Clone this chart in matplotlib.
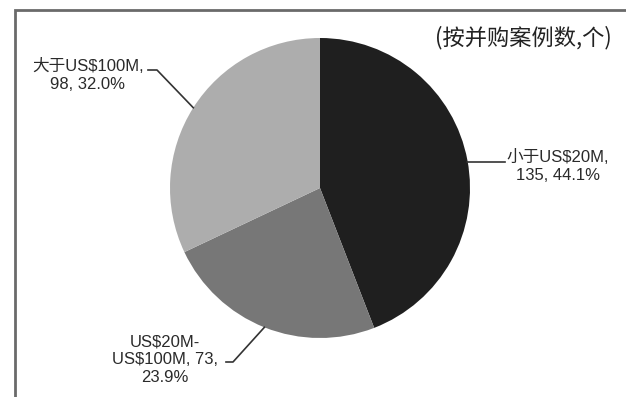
import numpy as np
import matplotlib
matplotlib.use("Agg")
import matplotlib.pyplot as plt

plt.rcParams['font.family'] = ['Liberation Sans', 'Noto Sans CJK SC', 'DejaVu Sans']

categories = ["小于US$20M", "US$20M-US$100M", "大于US$100M"]
counts = [135, 73, 98]
shares = [44.1, 23.9, 32.0]
label_texts = ["小于US$20M,\n135, 44.1%", "US$20M-\nUS$100M, 73,\n23.9%", "大于US$100M,\n98, 32.0%"]
colors = ["#1f1f1f", "#777777", "#adadad"]
note = "(按并购案例数,个)"

W, H = 626, 397
fig = plt.figure(figsize=(W / 100, H / 100), dpi=100)
ax = fig.add_axes([0, 0, 1, 1])
ax.set_xlim(0, W)
ax.set_ylim(0, H)
ax.axis('off')

cx, cy, R = 320, H - 188, 150
wedges, _ = ax.pie(counts, colors=colors, startangle=90, counterclock=False,
                   center=(cx, cy), radius=R, frame=True,
                   wedgeprops=dict(linewidth=0))
ax.set_xlim(0, W)
ax.set_ylim(0, H)
ax.set_aspect('auto')
ax.axis('off')

# frame (left and top)
ax.plot([14.5, 14.5, W], [-5, H - 9.5, H - 9.5], color="#6a6a6a", lw=2, clip_on=False,
        solid_joinstyle='miter')

# label layout: (text x, text y, elbow point, line end)  in pixel coords from top
layout = [
    dict(tx=558, ty=166, elbow=None, end=(505, 162)),
    dict(tx=165, ty=360, elbow=(233, 362), end=(226, 362)),
    dict(tx=88, ty=75, elbow=(157, 70), end=(148, 70)),
]

for w, txt, lay in zip(wedges, label_texts, layout):
    th = np.deg2rad((w.theta1 + w.theta2) / 2)
    px, py = cx + R * np.cos(th), cy + R * np.sin(th)
    xs, ys = [px], [py]
    if lay['elbow'] is not None:
        xs.append(lay['elbow'][0]); ys.append(H - lay['elbow'][1])
    else:
        ys[0] = H - lay['end'][1]
    xs.append(lay['end'][0]); ys.append(H - lay['end'][1])
    ax.plot(xs, ys, color="#333333", lw=1.2)
    ax.text(lay['tx'], H - lay['ty'], txt, ha='center', va='center', fontsize=12,
            color="#2a2a2a", linespacing=1.25, multialignment='center')

ax.text(612, H - 38, note, ha='right', va='center', fontsize=16, color="#222222",
        family=['Noto Sans CJK SC', 'DejaVu Sans'])

fig.savefig("out.png", dpi=100, facecolor='white')
